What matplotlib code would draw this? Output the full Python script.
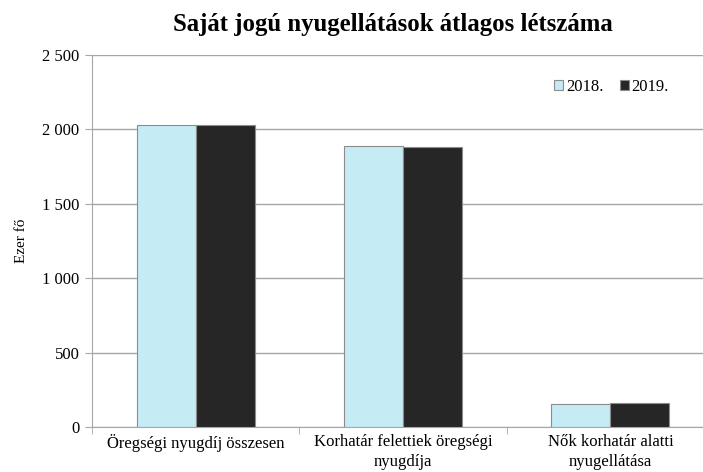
import numpy as np
import matplotlib
matplotlib.use("Agg")
import matplotlib.pyplot as plt
from matplotlib.ticker import FuncFormatter

categories = ["Öregségi nyugdíj összesen",
              "Korhatár felettiek öregségi\nnyugdíja",
              "Nők korhatár alatti\nnyugellátása"]
values_2018 = [2032, 1888, 152]
values_2019 = [2030, 1884, 158]
series_labels = ["2018.", "2019."]

plt.rcParams["font.family"] = ["Liberation Serif", "DejaVu Serif"]

fig = plt.figure(figsize=(7.03, 4.72), dpi=100)
ax = fig.add_axes([92 / 703, 45 / 472, 622 / 703, 372 / 472])

x = np.arange(len(categories))
w = 0.285
ax.bar(x - w / 2, values_2018, w, color="#C5EBF5", edgecolor="#8C8C8C",
       linewidth=0.8, label=series_labels[0], zorder=3)
ax.bar(x + w / 2, values_2019, w, color="#262626", edgecolor="#8C8C8C",
       linewidth=0.8, label=series_labels[1], zorder=3)

ax.set_xlim(-0.5, 2.5)
ax.set_ylim(0, 2500)
ax.set_yticks(range(0, 2501, 500))
ax.yaxis.set_major_formatter(FuncFormatter(lambda v, p: f"{int(v):,}".replace(",", " ")))
ax.grid(axis="y", color="#A6A6A6", linewidth=1, zorder=0)

ax.set_xticks(x)
ax.set_xticklabels(categories, fontsize=12, linespacing=1.35)
ax.set_xticks([-0.5, 0.5, 1.5, 2.5], minor=True)
ax.tick_params(axis="x", which="major", length=0, pad=5)
ax.tick_params(axis="x", which="minor", length=5, color="#A6A6A6")
ax.tick_params(axis="y", length=5, color="#A6A6A6", labelsize=12, pad=4)

for s in ["top", "right"]:
    ax.spines[s].set_visible(False)
ax.spines["left"].set_color("#A6A6A6")
ax.spines["bottom"].set_color("#A6A6A6")

ax.set_ylabel("Ezer fő", fontsize=11, labelpad=10)
fig.text(393 / 703, 1 - 24 / 472, "Saját jogú nyugellátások átlagos létszáma",
         ha="center", va="center", fontsize=17.8, fontweight="bold")

ax.legend(loc="upper right", bbox_to_anchor=(592 / 622, 0.975), ncol=2, frameon=False,
          fontsize=12, handlelength=0.55, handleheight=0.55, handletextpad=0.15,
          columnspacing=1.0)

fig.savefig("out.png", dpi=100)
